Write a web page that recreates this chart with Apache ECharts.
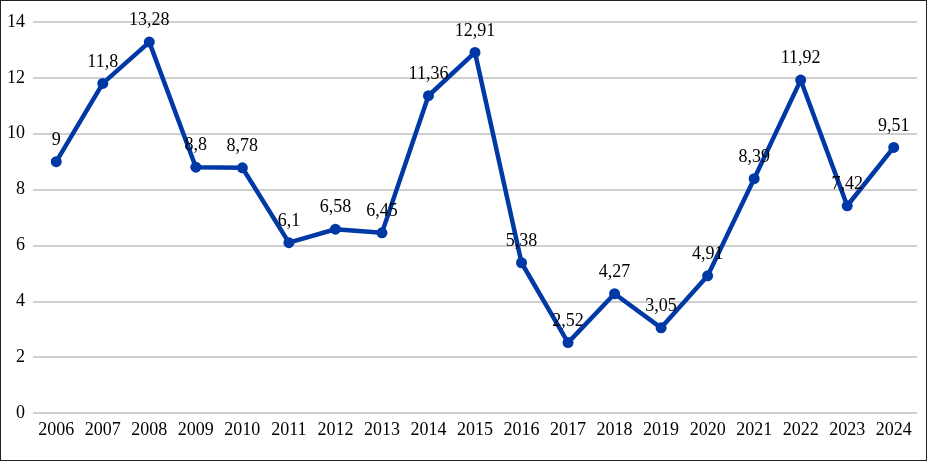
<!DOCTYPE html>
<html><head><meta charset="utf-8">
<script src="https://cdn.jsdelivr.net/npm/echarts@6/dist/echarts.min.js"></script>
<style>
html,body{margin:0;padding:0;background:#fff;}
#c{width:927px;height:461px;box-sizing:border-box;border:1px solid #222;}
</style></head>
<body><div id="c"></div>
<script>
const years = ['2006','2007','2008','2009','2010','2011','2012','2013','2014','2015','2016','2017','2018','2019','2020','2021','2022','2023','2024'];
const values = [9, 11.8, 13.28, 8.8, 8.78, 6.1, 6.58, 6.45, 11.36, 12.91, 5.38, 2.52, 4.27, 3.05, 4.91, 8.39, 11.92, 7.42, 9.51];
const font = '"Liberation Serif","Times New Roman",serif';
const chart = echarts.init(document.getElementById('c'));
chart.setOption({
  animation:false,
  grid:{left:32,right:9,top:21,bottom:47},
  xAxis:{type:'category',data:years,boundaryGap:true,
    axisLine:{show:false},axisTick:{show:false},
    axisLabel:{interval:0,hideOverlap:false,fontFamily:font,fontSize:18,color:'#000',margin:8}},
  yAxis:{type:'value',min:0,max:14,interval:2,
    axisLine:{show:false},axisTick:{show:false},
    splitLine:{lineStyle:{color:'#bfbfbf',width:1.5}},
    axisLabel:{fontFamily:font,fontSize:18,color:'#000',margin:8}},
  series:[{type:'line',data:values,
    lineStyle:{color:'#0039a6',width:4.5},
    itemStyle:{color:'#0039a6'},
    symbol:'circle',symbolSize:11,
    label:{show:true,position:'top',distance:7,fontFamily:font,fontSize:18,color:'#000',
      formatter:p=>String(p.value).replace('.',',')}}]
});
</script></body></html>
